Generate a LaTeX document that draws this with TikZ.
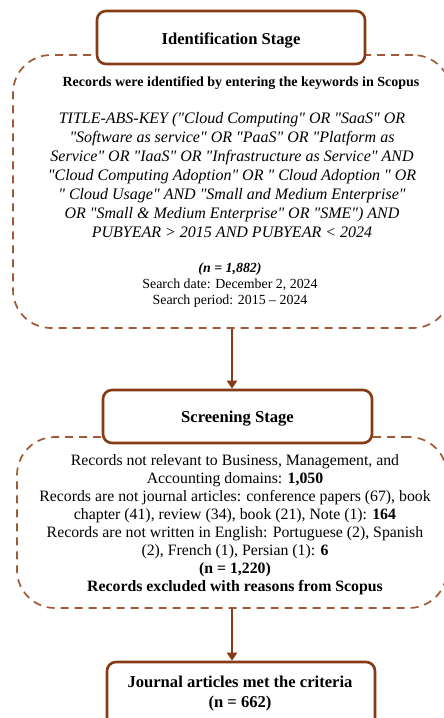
\documentclass[tikz,border=0pt]{standalone}
\usepackage{fontspec}
\setmainfont{Liberation Serif}
\usetikzlibrary{arrows.meta}
\definecolor{boxbrown}{RGB}{133,60,20}
\definecolor{dashbrown}{RGB}{160,90,55}
\newcommand{\dq}{\textquotedbl}
\tikzset{
  stagebox/.style={draw=boxbrown, line width=2.6pt, rounded corners=9pt, fill=white, inner sep=0pt},
  dashbox/.style={draw=dashbrown, line width=1.7pt, dash pattern=on 8pt off 6pt, rounded corners=38pt, inner sep=0pt},
  txt/.style={align=center, inner sep=0pt, text=black},
  arr/.style={draw=boxbrown, line width=2.6pt, -{Triangle[length=8pt,width=10pt]}},
}
\begin{document}
\begin{tikzpicture}[x=1pt,y=-1pt]
\clip (0,0) rectangle (444,718);
\fill[white] (0,0) rectangle (444,718);
% dashed containers
\node[dashbox, minimum width=438pt, minimum height=273pt] (d1) at (232,191.5) {};
\node[dashbox, minimum width=430pt, minimum height=171pt] (d2) at (232,522.5) {};
% stage boxes
\node[stagebox, minimum width=268pt, minimum height=53pt] (s1) at (231,37.5) {};
\node[txt, font=\fontsize{16.6}{18}\selectfont\bfseries] (t1) at (231,40) {Identification Stage};
\node[stagebox, minimum width=269pt, minimum height=53pt] (s2) at (237.5,416.5) {};
\node[txt, font=\fontsize{16.6}{18}\selectfont\bfseries] (t2) at (237.5,419) {Screening Stage};
\node[stagebox, minimum width=268pt, minimum height=70pt] (s3) at (241,697) {};
\node[txt, font=\fontsize{16.6}{20}\selectfont\bfseries] (t3) at (240,693) {Journal articles met the criteria\\(n = 662)};
% identification content
\node[txt, font=\fontsize{14}{16}\selectfont\bfseries] (q0) at (241,83) {Records were identified by entering the keywords in Scopus};
\node[txt, font=\fontsize{16}{19}\selectfont\itshape] (q1) at (232,175) {TITLE-ABS-KEY (\dq Cloud Computing\dq{} OR \dq SaaS\dq{} OR\\
\dq Software as service\dq{} OR \dq PaaS\dq{} OR \dq Platform as\\
Service\dq{} OR \dq IaaS\dq{} OR \dq Infrastructure as Service\dq{} AND\\
\dq Cloud Computing Adoption\dq{} OR \dq{} Cloud Adoption \dq{} OR\\
\dq{} Cloud Usage\dq{} AND \dq Small and Medium Enterprise\dq\\
OR \dq Small \& Medium Enterprise\dq{} OR \dq SME\dq) AND\\
PUBYEAR > 2015 AND PUBYEAR < 2024};
\node[txt, font=\fontsize{13.9}{16}\selectfont] (q2) at (230,285) {\textbf{\textit{(n = 1,882)}}\\Search date: December 2, 2024\\Search period: 2015 -- 2024};
% screening content
\node[txt, font=\fontsize{15.8}{18}\selectfont] (r1) at (235,525) {Records not relevant to Business, Management, and\\
Accounting domains: \textbf{1,050}\\
Records are not journal articles: conference papers (67), book\\
chapter (41), review (34), book (21), Note (1): \textbf{164}\\
Records are not written in English: Portuguese (2), Spanish\\
(2), French (1), Persian (1): \textbf{6}\\
\textbf{(n = 1,220)}\\
\textbf{Records excluded with reasons from Scopus}};
% connectors
\draw[arr] (d1.south) -- (d1.south |- s2.north);
\draw[arr] (d2.south) -- (d2.south |- s3.north);
\end{tikzpicture}
\end{document}
